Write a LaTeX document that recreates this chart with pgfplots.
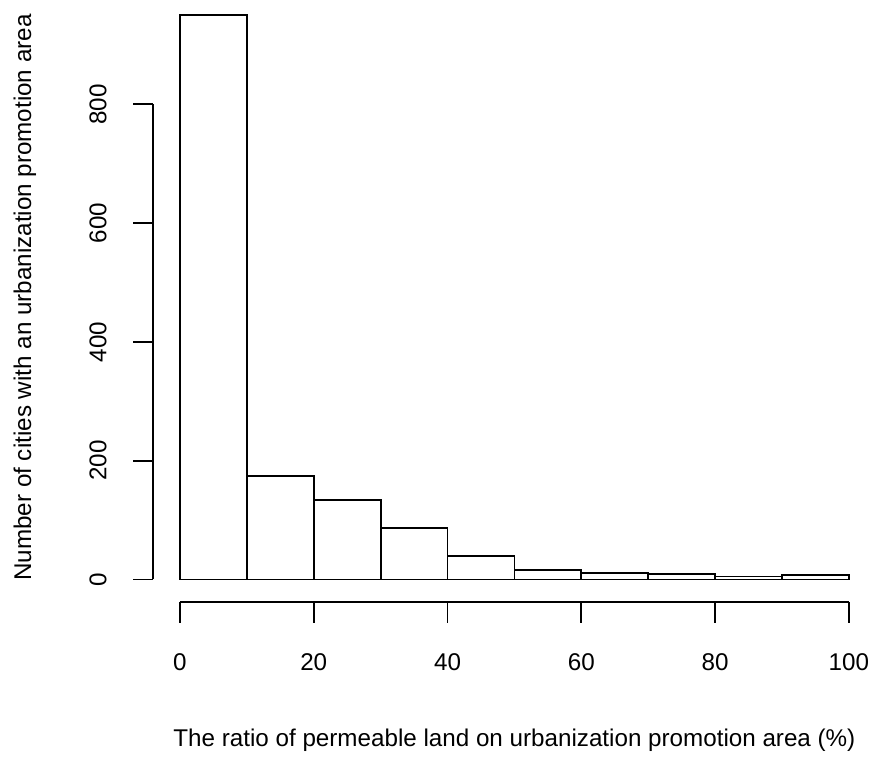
\documentclass[border=0pt]{standalone}
\usepackage{fontspec}
\setmainfont{Liberation Sans}
\usepackage{pgfplots}
\pgfplotsset{compat=1.18}
\begin{document}
\begin{tikzpicture}[lbl/.style={font=\fontsize{12.1}{14.5}\selectfont, inner sep=0pt, anchor=center}]
\begin{axis}[
  scale only axis, width=437.5pt, height=379pt,
  xmin=-26.9, xmax=103.9, ymin=-300.5, ymax=975.6,
  hide axis, clip=false,
]
% histogram of counts per 10% bin
\addplot[ybar interval, fill=white, draw=black, line width=0.9pt]
  coordinates {(0,950) (10,174) (20,134) (30,87) (40,39) (50,16) (60,11) (70,9) (80,5) (90,7) (100,7)};

% detached y axis
\draw[line width=0.9pt] (axis cs:-4,0) -- (axis cs:-4,800);
\pgfplotsinvokeforeach{0,200,400,600,800}{
  \draw[line width=0.9pt] (axis cs:-4,#1) -- (axis cs:-7,#1);
  \node[lbl, rotate=90] at (axis cs:-12.26,#1) {#1};
}
% detached x axis
\draw[line width=0.9pt] (axis cs:0,-38) -- (axis cs:100,-38);
\pgfplotsinvokeforeach{0,20,40,60,80,100}{
  \draw[line width=0.9pt] (axis cs:#1,-38) -- (axis cs:#1,-73.4);
  \node[lbl] at (axis cs:#1,-138.9) {#1};
}
% axis titles
\node[lbl] at (axis cs:50,-270) {The ratio of permeable land on urbanization promotion area (\%)};
\node[lbl, rotate=90] at (axis cs:-23.2,474.7) {Number of cities with an urbanization promotion area};

\coordinate (bl) at (axis cs:-26.9,-300.5);
\coordinate (tr) at (axis cs:103.9,975.6);
\end{axis}
\pgfresetboundingbox
\path[use as bounding box] (bl) rectangle (tr);
\end{tikzpicture}
\end{document}
